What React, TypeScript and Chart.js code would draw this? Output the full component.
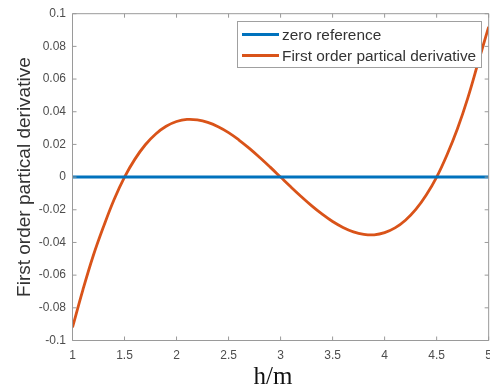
import React, { useEffect, useRef } from "react";
import { Chart, registerables } from "chart.js";

Chart.register(...registerables);

// Sampled curve: first order partial derivative versus h (m)
const hValues = [
  1.0, 1.1, 1.2, 1.3, 1.4, 1.5, 1.6, 1.7, 1.8, 1.9,
  2.0, 2.1, 2.2, 2.3, 2.4, 2.5, 2.6, 2.7, 2.8, 2.9,
  3.0, 3.1, 3.2, 3.3, 3.4, 3.5, 3.6, 3.7, 3.8, 3.9,
  4.0, 4.1, 4.2, 4.3, 4.4, 4.5, 4.6, 4.7, 4.8, 4.9, 5.0,
];
const derivative = [
  -0.092, -0.069, -0.048, -0.030, -0.0137, 0.0, 0.011, 0.0198, 0.0264, 0.0311,
  0.034, 0.0353, 0.035, 0.0335, 0.0308, 0.0272, 0.0227, 0.0176, 0.012, 0.0061,
  0.0, -0.0061, -0.012, -0.0176, -0.0227, -0.0272, -0.0308, -0.0335, -0.035, -0.0353,
  -0.034, -0.0311, -0.0264, -0.0198, -0.011, 0.0, 0.0137, 0.0296, 0.0485, 0.0703, 0.092,
];

// Horizontal zero line across the h range
const zeroRange = [1, 5];
const zeroReference = [0, 0];

const xTickValues = [1, 1.5, 2, 2.5, 3, 3.5, 4, 4.5, 5];
const yTickValues = [-0.1, -0.08, -0.06, -0.04, -0.02, 0, 0.02, 0.04, 0.06, 0.08, 0.1];

const seriesLabels = ["zero reference", "First order partical derivative"];
const seriesColors = ["#0072BD", "#D95319"];
const xTitle = "h/m";
const yTitle = "First order partical derivative";

const AXIS_COLOR = "#9a9a9a";
const TICK_LEN = 4;
const SANS = "'Liberation Sans', Arial, sans-serif";

const fmt = (v: number) => String(Math.round(v * 1000) / 1000);

// MATLAB-style box with inward tick marks on all four sides
const boxTicksPlugin = {
  id: "boxTicks",
  afterDatasetsDraw(chart: any) {
    const { ctx, chartArea: a, scales } = chart;
    const xs = scales.x;
    const ys = scales.y;
    ctx.save();
    ctx.strokeStyle = AXIS_COLOR;
    ctx.lineWidth = 1;
    ctx.beginPath();
    ctx.rect(a.left, a.top, a.right - a.left, a.bottom - a.top);
    ctx.stroke();
    ctx.beginPath();
    for (const v of xTickValues) {
      const px = xs.getPixelForValue(v);
      ctx.moveTo(px, a.bottom);
      ctx.lineTo(px, a.bottom - TICK_LEN);
      ctx.moveTo(px, a.top);
      ctx.lineTo(px, a.top + TICK_LEN);
    }
    for (const v of yTickValues) {
      const py = ys.getPixelForValue(v);
      ctx.moveTo(a.left, py);
      ctx.lineTo(a.left + TICK_LEN, py);
      ctx.moveTo(a.right, py);
      ctx.lineTo(a.right - TICK_LEN, py);
    }
    ctx.stroke();
    ctx.restore();
  },
};

// Boxed legend in the upper right of the plot, plus the serif h/m label
const legendAndTitlePlugin = {
  id: "legendAndTitle",
  afterDraw(chart: any) {
    const { ctx } = chart;
    ctx.save();
    const box = { x: 237.5, y: 21.5, w: 244, h: 46 };
    ctx.fillStyle = "#ffffff";
    ctx.fillRect(box.x, box.y, box.w, box.h);
    ctx.strokeStyle = "#a0a0a0";
    ctx.lineWidth = 1;
    ctx.strokeRect(box.x, box.y, box.w, box.h);
    const rows = [34.5, 55.5];
    ctx.font = `15.4px ${SANS}`;
    ctx.textBaseline = "middle";
    ctx.textAlign = "left";
    seriesLabels.forEach((label, i) => {
      ctx.strokeStyle = seriesColors[i];
      ctx.lineWidth = 3;
      ctx.beginPath();
      ctx.moveTo(242, rows[i]);
      ctx.lineTo(279, rows[i]);
      ctx.stroke();
      ctx.fillStyle = "#333333";
      ctx.fillText(label, 282, rows[i] + 1);
    });
    ctx.font = "25px 'Liberation Serif', 'Times New Roman', serif";
    ctx.fillStyle = "#111111";
    ctx.textAlign = "center";
    ctx.textBaseline = "alphabetic";
    ctx.fillText(xTitle, 273, 384);
    ctx.restore();
  },
};

export default function App() {
  const canvasRef = useRef<HTMLCanvasElement | null>(null);

  useEffect(() => {
    const canvas = canvasRef.current;
    if (!canvas) return;
    const chart = new Chart(canvas, {
      type: "scatter",
      data: {
        datasets: [
          {
            label: seriesLabels[0],
            data: zeroRange.map((h, i) => ({ x: h, y: zeroReference[i] })),
            showLine: true,
            borderColor: seriesColors[0],
            borderWidth: 3,
            pointRadius: 0,
          },
          {
            label: seriesLabels[1],
            data: hValues.map((h, i) => ({ x: h, y: derivative[i] })),
            showLine: true,
            borderColor: seriesColors[1],
            borderWidth: 2.8,
            pointRadius: 0,
            tension: 0.4,
          },
        ],
      },
      options: {
        animation: false,
        responsive: false,
        maintainAspectRatio: false,
        layout: { padding: { left: 0, top: 13.5, right: 8.5, bottom: 0 } },
        plugins: {
          legend: { display: false },
          tooltip: { enabled: false },
        },
        scales: {
          x: {
            type: "linear",
            min: 1,
            max: 5,
            grid: { display: false, drawTicks: false },
            border: { display: false },
            afterBuildTicks: (s: any) => {
              s.ticks = xTickValues.map((v) => ({ value: v }));
            },
            afterFit: (s: any) => {
              s.height = 47.5;
            },
            ticks: {
              padding: 8,
              color: "#4d4d4d",
              font: { family: SANS, size: 12 },
              maxRotation: 0,
              callback: (v: any) => fmt(Number(v)),
            },
          },
          y: {
            type: "linear",
            min: -0.1,
            max: 0.1,
            grid: { display: false, drawTicks: false },
            border: { display: false },
            afterBuildTicks: (s: any) => {
              s.ticks = yTickValues.map((v) => ({ value: v }));
            },
            afterFit: (s: any) => {
              s.width = 72.5;
            },
            ticks: {
              padding: 6.5,
              color: "#4d4d4d",
              font: { family: SANS, size: 12 },
              callback: (v: any) => fmt(Number(v)),
            },
            title: {
              display: true,
              text: yTitle,
              color: "#333333",
              font: { family: SANS, size: 19 },
              padding: { top: 13, bottom: 0 },
            },
          },
        },
      },
      plugins: [boxTicksPlugin, legendAndTitlePlugin],
    });
    return () => chart.destroy();
  }, []);

  return (
    <div
      style={{
        position: "fixed",
        left: 0,
        top: 0,
        width: 490,
        height: 388,
        overflow: "hidden",
        background: "#ffffff",
      }}
    >
      <canvas ref={canvasRef} width={500} height={388} style={{ display: "block" }} />
    </div>
  );
}
